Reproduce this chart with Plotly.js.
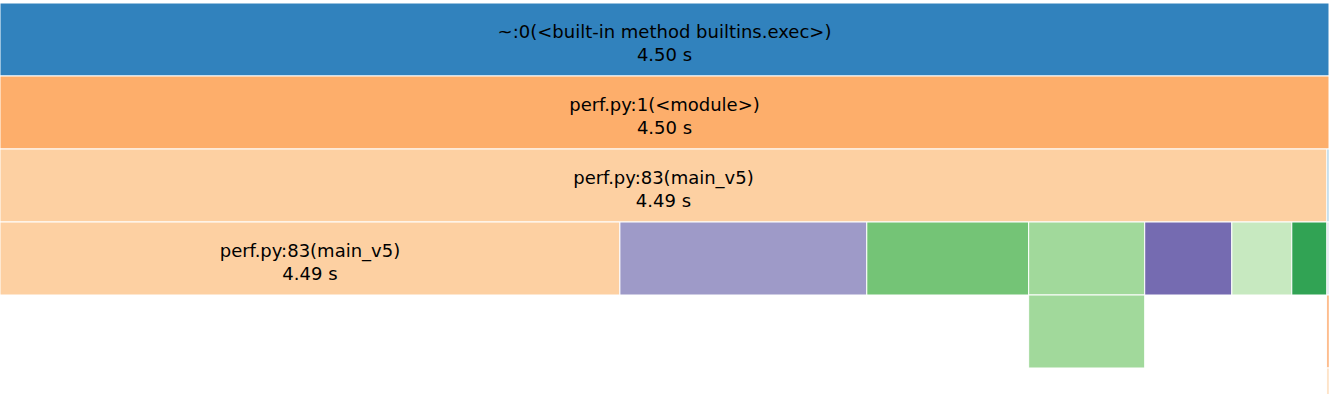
<!DOCTYPE html>
<html>
<head>
<meta charset="utf-8">
<script src="https://cdn.plot.ly/plotly-3.0.1.min.js"></script>
<style>html,body{margin:0;padding:0;background:#fff;}</style>
</head>
<body>
<div id="chart" style="width:1329px;height:441px;"></div>
<script>
// Node identifiers and their parents (call tree)
const ids = ["root", "module", "main_v5", "other1",
             "c_main_v5", "c_b", "c_c", "c_d", "c_e", "c_f", "c_g", "other2",
             "d_child", "other3",
             "other4"];
const labels = ["~:0(<built-in method builtins.exec>)", "perf.py:1(<module>)", "perf.py:83(main_v5)", "other",
                "perf.py:83(main_v5)", "call b", "call c", "call d", "call e", "call f", "call g", "other",
                "call d child", "other",
                "other"];
const parents = ["", "root", "module", "module",
                 "main_v5", "main_v5", "main_v5", "main_v5", "main_v5", "main_v5", "main_v5", "other1",
                 "c_d", "other2",
                 "other3"];
// cumulative time in seconds
const values = [4.50, 4.50, 4.493, 0.007,
                2.099, 0.836, 0.548, 0.393, 0.295, 0.203, 0.119, 0.007,
                0.393, 0.007,
                0.007];
// displayed labels
const lead = '<span style="font-size:1px">&nbsp;</span><br>';
const texts = [lead + "~:0(&lt;built-in method builtins.exec&gt;)<br>4.50 s",
               lead + "perf.py:1(&lt;module&gt;)<br>4.50 s",
               lead + "perf.py:83(main_v5)<br>4.49 s",
               "",
               lead + "perf.py:83(main_v5)<br>4.49 s", "", "", "", "", "", "", "",
               "", "",
               ""];
const colors = ["#3182bd", "#fdae6b", "#fdd0a2", "#9ecae1",
                "#fdd0a2", "#9e9ac8", "#74c476", "#a1d99b", "#756bb1", "#c7e9c0", "#31a354", "#dadaeb",
                "#a1d99b", "#fd8d3c",
                "#fdd0a2"];

const trace = {
  type: "icicle",
  ids: ids,
  labels: labels,
  parents: parents,
  values: values,
  text: texts,
  branchvalues: "total",
  sort: false,
  textinfo: "text",
  textposition: "middle center",
  tiling: {orientation: "v", pad: 0},
  leaf: {opacity: 1},
  marker: {colors: colors, line: {color: "#ffffff", width: 1}},
  insidetextfont: {family: "DejaVu Sans", size: 18, color: "#000000"},
  outsidetextfont: {family: "DejaVu Sans", size: 18, color: "#000000"},
  hoverinfo: "none"
};

const layout = {
  width: 1329,
  height: 441,
  margin: {l: 0, r: 0, t: 3, b: 0, pad: 0},
  paper_bgcolor: "#ffffff",
  showlegend: false,
  font: {family: "DejaVu Sans", size: 18, color: "#000000"}
};

Plotly.newPlot("chart", [trace], layout, {displayModeBar: false, staticPlot: true});
</script>
</body>
</html>
